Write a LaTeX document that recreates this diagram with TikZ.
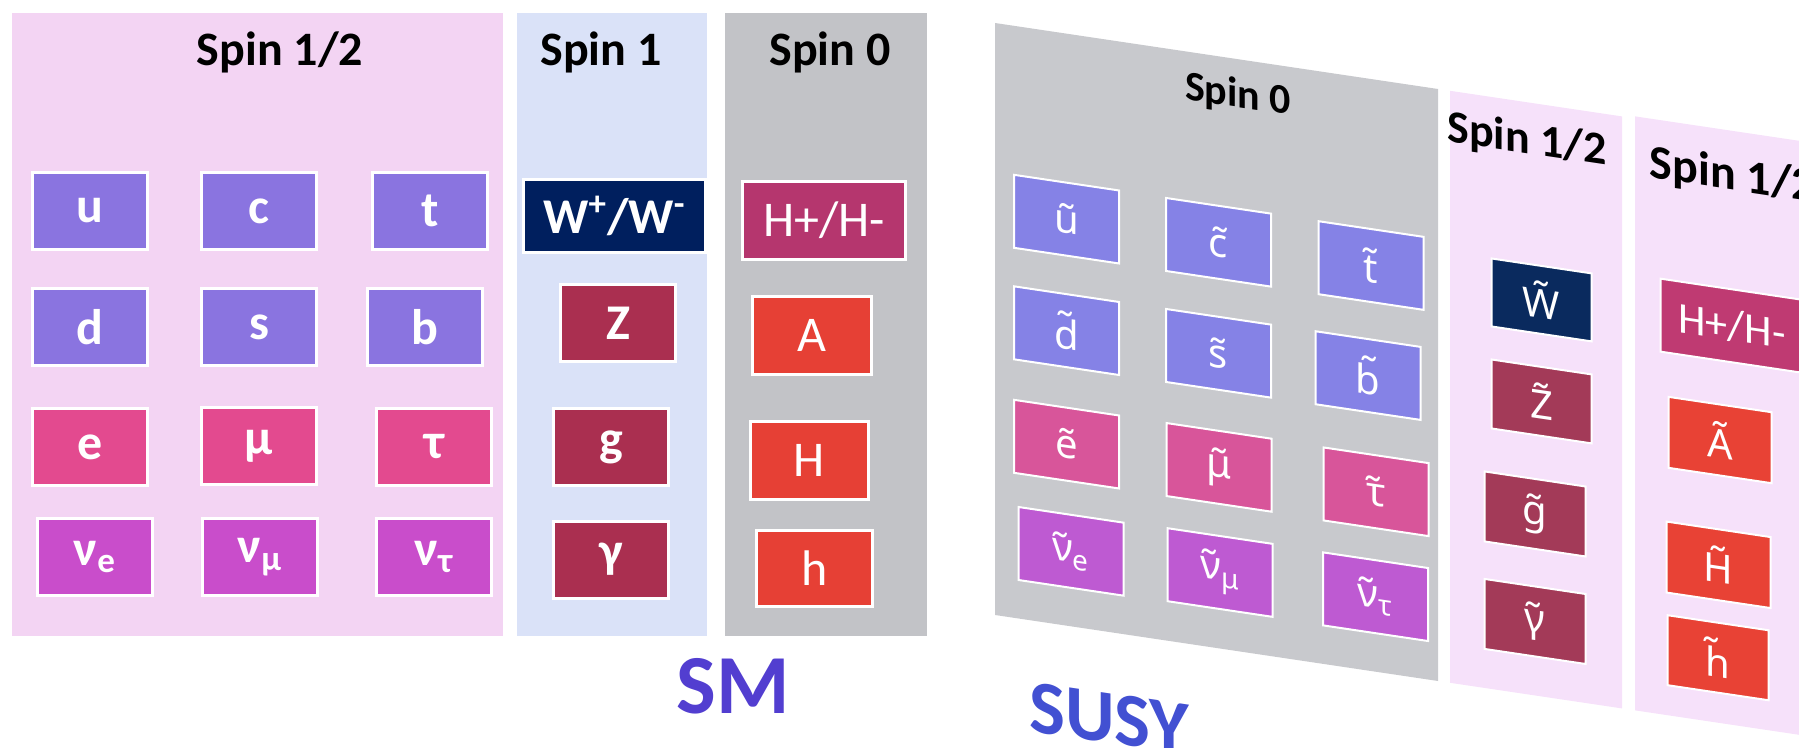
\documentclass[tikz,border=0pt]{standalone}
\usepackage{fontspec}
\setmainfont{Carlito}
\newfontfamily\accfont{Noto Sans}
\definecolor{panelPink}{RGB}{243,212,243}
\definecolor{panelBlue}{RGB}{218,226,248}
\definecolor{panelGrey}{RGB}{194,195,199}
\definecolor{susyGrey}{RGB}{200,201,205}
\definecolor{susyPink}{RGB}{246,225,250}
\definecolor{quark}{RGB}{138,116,224}
\definecolor{lepton}{RGB}{227,74,143}
\definecolor{neutrino}{RGB}{201,77,203}
\definecolor{wboson}{RGB}{0,31,94}
\definecolor{gauge}{RGB}{170,47,80}
\definecolor{chHiggs}{RGB}{181,54,110}
\definecolor{higgs}{RGB}{230,64,53}
\definecolor{squark}{RGB}{133,130,230}
\definecolor{slepton}{RGB}{216,85,154}
\definecolor{sneutrino}{RGB}{190,90,210}
\definecolor{swino}{RGB}{10,42,94}
\definecolor{sgauge}{RGB}{163,58,88}
\definecolor{schHiggs}{RGB}{191,58,114}
\definecolor{shiggs}{RGB}{232,66,53}
\definecolor{smText}{RGB}{82,62,208}
\definecolor{susyText}{RGB}{66,80,210}
\tikzset{
  pbox/.style={rectangle, fill=#1, draw=white, line width=1.5pt, text=white, inner sep=0pt},
  sz/.style 2 args={minimum width=#1, minimum height=#2},
  smbox/.style={pbox=#1, sz={57.5pt}{38.5pt}},
  smlbl/.style={font=\bfseries\fontsize{25}{30}\selectfont},
  smreg/.style={font=\fontsize{25}{30}\selectfont},
  sbox/.style={pbox=#1, line width=1pt, sz={52.5pt}{36.5pt}, font=\accfont\fontsize{20}{24}\selectfont},
  spinlbl/.style={anchor=base, inner sep=0pt, font=\bfseries\fontsize{24}{28}\selectfont},
}
\begin{document}
\begin{tikzpicture}[x=0.5pt, y=-0.5pt]
\useasboundingbox (0,0) rectangle (1799,748);
\clip (0,0) rectangle (1799,748);

% ---------------- Standard Model ----------------
\fill[panelPink] (12,13) rectangle (503,636);
\fill[panelBlue] (517,13) rectangle (707,636);
\fill[panelGrey] (725,13) rectangle (927,636);

\node[spinlbl] (smHalf) at (280,66) {Spin 1/2};
\node[spinlbl] (smOne)  at (601,66) {Spin 1};
\node[spinlbl] (smZero) at (830,66) {Spin 0};

% fermions
\node[smbox=quark, smlbl] (u) at (90,211) {u};
\node[smbox=quark, smlbl] (c) at (259,211) {c};
\node[smbox=quark, smlbl] (t) at (430,211) {t};
\node[smbox=quark, smlbl] (d) at (90,327) {d};
\node[smbox=quark, smlbl] (s) at (259,327) {s};
\node[smbox=quark, smlbl] (b) at (425,327) {b};
\node[smbox=lepton, smlbl] (e)   at (90,447) {e};
\node[smbox=lepton, smlbl] (mu)  at (259,446) {μ};
\node[smbox=lepton, smlbl] (tau) at (434,447) {τ};
\node[smbox=neutrino, smlbl] (nue)   at (95,557) {ν\textsubscript{e}};
\node[smbox=neutrino, smlbl] (numu)  at (260,557) {ν\textsubscript{μ}};
\node[smbox=neutrino, smlbl] (nutau) at (434,557) {ν\textsubscript{τ}};

% gauge bosons
\node[pbox=wboson, smlbl, sz={91pt}{36.5pt}] (W) at (614.5,216) {W\textsuperscript{+}/W\textsuperscript{-}};
\node[smbox=gauge, smlbl] (Z)   at (618,323.5) {Z};
\node[smbox=gauge, smlbl] (g)   at (611,447) {g};
\node[smbox=gauge, smlbl] (gam) at (611,559.5) {γ};

% scalars
\node[pbox=chHiggs, smreg, sz={81.5pt}{39pt}] (Hpm) at (824,220.5) {H+/H-};
\node[smbox=higgs, smreg, sz={59.5pt}{39pt}] (A) at (812,335.5) {A};
\node[smbox=higgs, smreg, sz={59pt}{39pt}]   (H) at (809.5,460.5) {H};
\node[smbox=higgs, smreg, sz={58pt}{38pt}]   (h) at (814.5,568.5) {h};

\node[anchor=base, inner sep=0pt, text=smText, font=\bfseries\fontsize{42}{48}\selectfont] (SM) at (733,713) {SM};

% ---------------- Supersymmetric partners ----------------
\begin{scope}[shift={(0pt,74.13pt)}, yslant=-0.149, transform shape]
  \fill[susyGrey] (995,23) rectangle (1438,615);
  \fill[susyPink] (1450,23) rectangle (1622,615);
  \fill[susyPink] (1635,21) rectangle (1850,615);

  \node[spinlbl, font=\bfseries\fontsize{21}{25}\selectfont] (suZero) at (1238,71) {Spin 0};
  \node[spinlbl, font=\bfseries\fontsize{23}{27}\selectfont] (suHalfA) at (1527,74) {Spin 1/2};
  \node[spinlbl, font=\bfseries\fontsize{24}{28}\selectfont] (suHalfB) at (1733,80) {Spin 1/2};

  % sfermions
  \node[sbox=squark] (su) at (1066.5,208.5) {ũ};
  \node[sbox=squark] (sc) at (1218.5,209) {c̃};
  \node[sbox=squark] (st) at (1371,209.5) {t̃};
  \node[sbox=squark] (sd) at (1066.5,320) {d̃};
  \node[sbox=squark] (ss) at (1218.5,320) {s̃};
  \node[sbox=squark] (sb) at (1368,320) {b̃};
  \node[sbox=slepton] (se)   at (1066.5,433.5) {ẽ};
  \node[sbox=slepton] (smu)  at (1219,434) {μ̃};
  \node[sbox=slepton] (stau) at (1376,435) {τ̃};
  \node[sbox=sneutrino] (snue)   at (1071,540) {ν̃\textsubscript{e}};
  \node[sbox=sneutrino] (snumu)  at (1220,539) {ν̃\textsubscript{μ}};
  \node[sbox=sneutrino] (snutau) at (1375.5,540) {ν̃\textsubscript{τ}};

  % gauginos
  \node[sbox=swino, sz={50pt}{34pt}] (sW) at (1541.5,218.5) {W̃};
  \node[sbox=sgauge, sz={50pt}{34.5pt}] (sZ) at (1541.5,320) {Z̃};
  \node[sbox=sgauge, sz={50.5pt}{35pt}] (sg) at (1535,433.5) {g̃};
  \node[sbox=sgauge, sz={50.5pt}{35pt}] (sgam) at (1535,541) {γ̃};

  % higgsinos
  \node[sbox=schHiggs, sz={71.5pt}{36.5pt}, font=\fontsize{22}{26}\selectfont] (sHpm) at (1732,216) {H+/H-};
  \node[sbox=shiggs, sz={51.5pt}{35.5pt}] (sA) at (1720,332) {Ã};
  \node[sbox=shiggs, sz={52pt}{35.5pt}]   (sH) at (1718.5,457) {H̃};
  \node[sbox=shiggs, sz={50.5pt}{35pt}]   (sh) at (1718,550) {h̃};

  \node[anchor=base, inner sep=0pt, text=susyText, font=\bfseries\fontsize{38}{44}\selectfont] (SUSY) at (1109,726) {SUSY};
\end{scope}
\end{tikzpicture}
\end{document}
